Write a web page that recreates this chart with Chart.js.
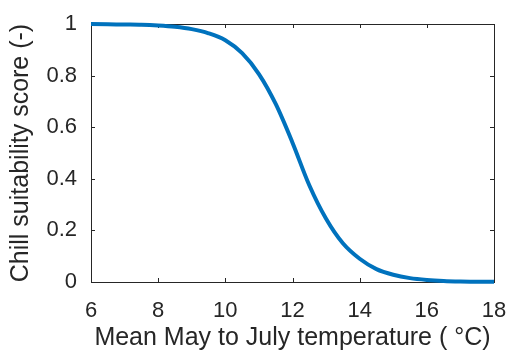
<!DOCTYPE html>
<html lang="en">
<head>
    <meta charset="UTF-8">
    <title>Chill suitability score</title>
    <script src="https://cdn.jsdelivr.net/npm/chart.js"></script>
    <style>
        html, body { margin: 0; padding: 0; background: #fff; }
        .chart-box { width: 510px; height: 351px; }
    </style>
</head>
<body>

    <div class="chart-box">
        <canvas id="chillChart" width="510" height="351"></canvas>
    </div>

    <script>
        // Data
        const temperatures = [6, 6.5, 7, 7.5, 8, 8.5, 9, 9.5, 10, 10.5, 11, 11.5, 12,
                              12.5, 13, 13.5, 14, 14.5, 15, 15.5, 16, 16.5, 17, 17.5, 18];
        const chillScore = [1.000, 0.999, 0.998, 0.997, 0.994, 0.989, 0.980, 0.964, 0.937,
                            0.887, 0.806, 0.690, 0.540, 0.375, 0.245, 0.150, 0.090, 0.050,
                            0.028, 0.015, 0.008, 0.004, 0.002, 0.001, 0.001];
        const xTicks = [6, 8, 10, 12, 14, 16, 18];
        const yTicks = [0, 0.2, 0.4, 0.6, 0.8, 1];
        const yTickLabels = ["0", "0.2", "0.4", "0.6", "0.8", "1"];

        const axisColor = "#262626";
        const fontFamily = "'Liberation Sans', Arial, Helvetica, sans-serif";

        // MATLAB style box with inward ticks on all four sides
        const boxPlugin = {
            id: "boxAxes",
            beforeDatasetsDraw(chart) {
                const { ctx, chartArea: a, scales: { x, y } } = chart;
                const tl = 4;
                ctx.save();
                ctx.strokeStyle = axisColor;
                ctx.lineWidth = 1;
                ctx.strokeRect(a.left + 0.5, a.top + 0.5, a.right - a.left, a.bottom - a.top);
                ctx.beginPath();
                xTicks.forEach(v => {
                    const px = Math.round(x.getPixelForValue(v)) + 0.5;
                    ctx.moveTo(px, a.bottom); ctx.lineTo(px, a.bottom - tl);
                    ctx.moveTo(px, a.top); ctx.lineTo(px, a.top + tl);
                });
                yTicks.forEach(v => {
                    const py = Math.round(y.getPixelForValue(v)) + 0.5;
                    ctx.moveTo(a.left, py); ctx.lineTo(a.left + tl, py);
                    ctx.moveTo(a.right, py); ctx.lineTo(a.right - tl, py);
                });
                ctx.stroke();
                ctx.restore();
            }
        };

        new Chart(document.getElementById("chillChart").getContext("2d"), {
            type: "line",
            data: {
                datasets: [{
                    data: temperatures.map((t, i) => ({ x: t, y: chillScore[i] })),
                    borderColor: "#0072BD",
                    borderWidth: 4,
                    pointRadius: 0,
                    cubicInterpolationMode: "monotone",
                    clip: 4
                }]
            },
            options: {
                responsive: false,
                animation: false,
                events: [],
                layout: { padding: { left: 0, right: 16, top: 24, bottom: 0 } },
                plugins: { legend: { display: false }, tooltip: { enabled: false } },
                scales: {
                    x: {
                        type: "linear",
                        min: 6,
                        max: 18,
                        afterBuildTicks: s => { s.ticks = xTicks.map(v => ({ value: v })); },
                        afterFit: s => { s.height = 69; s.paddingLeft = 0; s.paddingRight = 0; },
                        grid: { display: false, drawTicks: false },
                        border: { display: false },
                        ticks: {
                            color: axisColor,
                            font: { family: fontFamily, size: 22 },
                            padding: 16,
                            maxRotation: 0
                        },
                        title: {
                            display: true,
                            text: "Mean May to July temperature ( °C)",
                            color: axisColor,
                            font: { family: fontFamily, size: 25, lineHeight: 1 },
                            padding: 0
                        }
                    },
                    y: {
                        min: 0,
                        max: 1,
                        afterBuildTicks: s => { s.ticks = yTicks.map(v => ({ value: v })); },
                        afterFit: s => { s.width = 91; s.paddingTop = 0; s.paddingBottom = 0; },
                        grid: { display: false, drawTicks: false },
                        border: { display: false },
                        ticks: {
                            color: axisColor,
                            font: { family: fontFamily, size: 22 },
                            padding: 14,
                            callback: (v) => yTickLabels[yTicks.indexOf(v)]
                        },
                        title: {
                            display: true,
                            text: "Chill suitability score (-)",
                            color: axisColor,
                            font: { family: fontFamily, size: 25, lineHeight: 1 },
                            padding: { top: 9, bottom: 0 }
                        }
                    }
                }
            },
            plugins: [boxPlugin]
        });
    </script>

</body>
</html>
